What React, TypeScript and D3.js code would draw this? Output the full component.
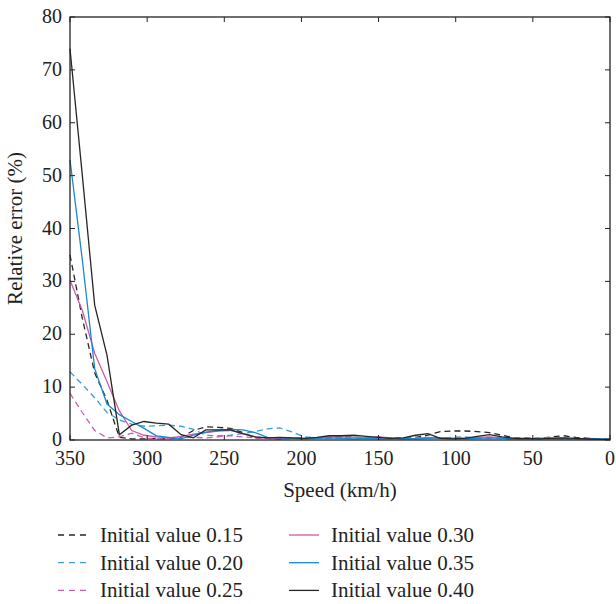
import React from "react";
import * as d3 from "d3";

const speeds = [350, 342, 334, 326, 318, 310, 302, 294, 286, 278, 270, 262, 254, 246, 238, 230, 222, 214, 206, 198, 190, 182, 174, 166, 158, 150, 142, 134, 126, 118, 110, 102, 94, 86, 78, 70, 62, 54, 46, 38, 30, 22, 14, 6, 0];

const v015 = [35, 23, 12.7, 7.5, 0.5, 0.2, 0.2, 0.3, 0.2, 0.5, 1.8, 2.5, 2.4, 2.2, 1.4, 0.4, 0.3, 0.2, 0.3, 0.3, 0.4, 0.5, 0.6, 0.5, 0.4, 0.5, 0.4, 0.3, 0.5, 0.9, 1.6, 1.7, 1.7, 1.6, 1.4, 0.9, 0.4, 0.3, 0.3, 0.6, 0.8, 0.5, 0.3, 0.2, 0.2];
const v020 = [12.9, 10.5, 8, 5.2, 3.8, 3.0, 2.6, 2.7, 2.8, 2.6, 2.0, 0.9, 0.8, 0.9, 1.2, 1.6, 2.1, 2.3, 1.5, 0.6, 0.4, 0.3, 0.4, 0.5, 0.4, 0.3, 0.3, 0.4, 0.5, 0.4, 0.3, 0.5, 0.6, 0.4, 0.5, 0.4, 0.3, 0.4, 0.3, 0.4, 0.3, 0.2, 0.3, 0.2, 0.2];
const v025 = [8.8, 5.2, 1.8, 0.4, 0.6, 1.3, 0.4, 0.2, 0.3, 0.4, 0.5, 0.4, 0.6, 0.8, 0.6, 0.4, 0.3, 0.3, 0.4, 0.3, 0.3, 0.4, 0.5, 0.4, 0.3, 0.4, 0.3, 0.2, 0.3, 0.4, 0.3, 0.3, 0.4, 0.3, 0.3, 0.3, 0.2, 0.3, 0.2, 0.3, 0.2, 0.2, 0.2, 0.1, 0.1];
const v030 = [30.2, 24.5, 16.4, 11, 5.5, 1.8, 0.9, 0.6, 0.4, 0.7, 1.1, 1.4, 1.7, 1.8, 1.2, 0.6, 0.3, 0.2, 0.3, 0.3, 0.4, 0.6, 0.6, 0.5, 0.4, 0.6, 0.4, 0.2, 0.3, 0.5, 0.4, 0.3, 0.4, 0.5, 0.6, 0.4, 0.3, 0.2, 0.3, 0.4, 0.3, 0.2, 0.2, 0.1, 0.1];
const v035 = [53, 34, 13.5, 6.8, 4.8, 3.5, 2.2, 0.8, 0.5, 0.2, 0.9, 1.5, 1.8, 2.0, 1.9, 1.4, 0.5, 0.4, 0.3, 0.2, 0.3, 0.4, 0.3, 0.2, 0.3, 0.2, 0.2, 0.3, 0.2, 0.3, 0.4, 0.3, 0.2, 0.3, 0.4, 0.3, 0.2, 0.2, 0.3, 0.2, 0.2, 0.3, 0.2, 0.2, 0.1];
const v040 = [74, 50, 25.5, 16, 1.0, 2.8, 3.5, 3.2, 3.0, 1.0, 0.4, 1.9, 1.9, 1.9, 1.2, 0.6, 0.4, 0.5, 0.4, 0.3, 0.5, 0.8, 0.8, 0.9, 0.7, 0.5, 0.3, 0.4, 0.9, 1.2, 0.3, 0.2, 0.3, 0.7, 1.0, 0.6, 0.3, 0.3, 0.2, 0.3, 0.4, 0.3, 0.2, 0.1, 0.1];

const seriesNames = ["Initial value 0.15", "Initial value 0.20", "Initial value 0.25", "Initial value 0.30", "Initial value 0.35", "Initial value 0.40"];
const xTicks = [350, 300, 250, 200, 150, 100, 50, 0];
const yTicks = [0, 10, 20, 30, 40, 50, 60, 70, 80];

const BLACK = "#262626";
const BLUE = "#1a88cc";
const BLUE_L = "#3b9bd8";
const MAG = "#cc5ca8";

const FONT = '"Liberation Serif", Tinos, "Nimbus Roman", "DejaVu Serif", serif';

export default function App() {
  const left = 70, right = 610, top = 17, bottom = 440;
  const x = d3.scaleLinear().domain([350, 0]).range([left, right]);
  const y = d3.scaleLinear().domain([0, 80]).range([bottom, top]);
  const ts = { fontFamily: FONT, fontSize: "20px" };
  const tsL = { fontFamily: FONT, fontSize: "21px" };

  const series = [
    { name: seriesNames[0], vals: v015, color: BLACK, dash: "6,4" },
    { name: seriesNames[1], vals: v020, color: BLUE_L, dash: "6,4" },
    { name: seriesNames[2], vals: v025, color: MAG, dash: "6,4" },
    { name: seriesNames[3], vals: v030, color: MAG, dash: null },
    { name: seriesNames[4], vals: v035, color: BLUE, dash: null },
    { name: seriesNames[5], vals: v040, color: BLACK, dash: null },
  ];

  const line = d3
    .line<number>()
    .x((_, i) => x(speeds[i]))
    .y((d) => y(d));

  const tl = 5;

  return (
    <svg width={616} height={604} style={{ position: "absolute", left: 0, top: 0 }}>
      <rect x={0} y={0} width={616} height={604} fill="#fff" />
      <g>
        {series.map((s) => (
          <path
            key={s.name}
            d={line(s.vals) || ""}
            fill="none"
            stroke={s.color}
            strokeWidth={1.3}
            strokeDasharray={s.dash || undefined}
          />
        ))}
      </g>
      <rect x={left} y={top} width={right - left} height={bottom - top} fill="none" stroke="#222" strokeWidth={1.3} />
      {xTicks.map((t) => (
        <g key={"x" + t}>
          <line x1={x(t)} x2={x(t)} y1={bottom} y2={bottom - tl} stroke="#222" strokeWidth={1} />
          <line x1={x(t)} x2={x(t)} y1={top} y2={top + tl} stroke="#222" strokeWidth={1} />
          <text x={x(t)} y={465} textAnchor="middle" style={ts} fill="#222">
            {t}
          </text>
        </g>
      ))}
      {yTicks.map((t) => (
        <g key={"y" + t}>
          <line x1={left} x2={left + tl} y1={y(t)} y2={y(t)} stroke="#222" strokeWidth={1} />
          <line x1={right} x2={right - tl} y1={y(t)} y2={y(t)} stroke="#222" strokeWidth={1} />
          <text x={62} y={y(t)} dy="0.3em" textAnchor="end" style={ts} fill="#222">
            {t}
          </text>
        </g>
      ))}
      <text x={(left + right) / 2} y={497} textAnchor="middle" style={tsL} fill="#222">
        Speed (km/h)
      </text>
      <text
        transform={`translate(22,${(top + bottom) / 2}) rotate(-90)`}
        textAnchor="middle"
        style={tsL}
        fill="#222"
      >
        Relative error (%)
      </text>
      {series.map((s, i) => {
        const col = Math.floor(i / 3);
        const row = i % 3;
        const lx = col === 0 ? 58 : 289;
        const tx = col === 0 ? 100 : 331;
        const by = 542 + row * 27.7;
        return (
          <g key={"lg" + i}>
            <line
              x1={lx}
              x2={lx + 30}
              y1={by - 7}
              y2={by - 7}
              stroke={s.color}
              strokeWidth={1.3}
              strokeDasharray={s.dash ? "6,5" : undefined}
            />
            <text x={tx} y={by} style={tsL} fill="#222">
              {s.name}
            </text>
          </g>
        );
      })}
    </svg>
  );
}
